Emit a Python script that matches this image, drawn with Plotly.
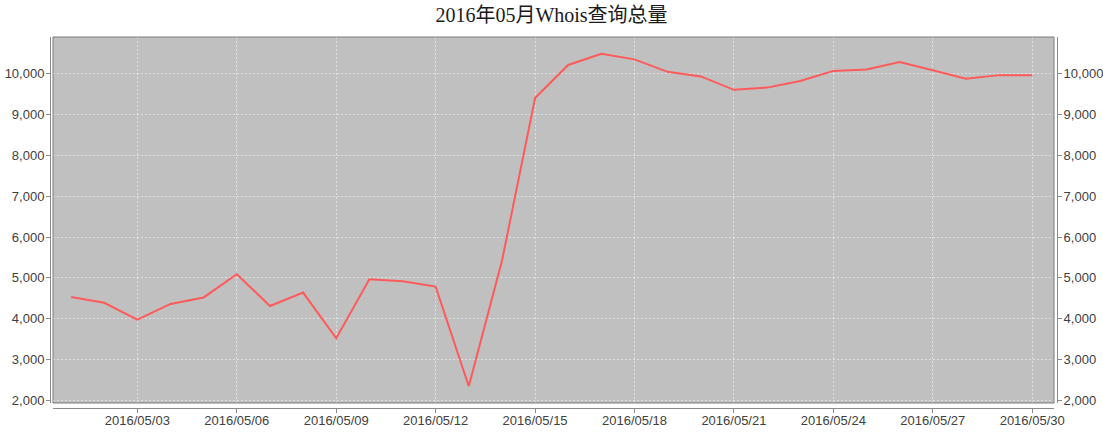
import plotly.graph_objects as go

# ---- data ----
dates = [
    "2016-05-01", "2016-05-02", "2016-05-03", "2016-05-04", "2016-05-05",
    "2016-05-06", "2016-05-07", "2016-05-08", "2016-05-09", "2016-05-10",
    "2016-05-11", "2016-05-12", "2016-05-13", "2016-05-14", "2016-05-15",
    "2016-05-16", "2016-05-17", "2016-05-18", "2016-05-19", "2016-05-20",
    "2016-05-21", "2016-05-22", "2016-05-23", "2016-05-24", "2016-05-25",
    "2016-05-26", "2016-05-27", "2016-05-28", "2016-05-29", "2016-05-30",
]
whois_total = [
    4530, 4390, 3975, 4360, 4520,
    5090, 4310, 4640, 3520, 4965,
    4915, 4785, 2345, 5410, 9405,
    10215, 10490, 10352, 10046, 9934,
    9605, 9660, 9822, 10070, 10104,
    10288, 10087, 9878, 9966, 9966,
]
title_text = "2016年05月Whois查询总量"

# ---- layout constants (pixels) ----
W, H = 1103, 432
ML, MR, MT, MB = 50, 46, 37, 24
pw = W - ML - MR
ph = H - MT - MB
x_dom = [3 / pw, (1054 - ML) / pw]
y_dom = [5 / ph, 1]

tick_font = dict(family="Liberation Sans, Noto Sans CJK SC", size=13, color="#404040")
axis_col = "#8a8a8a"
grid_col = "rgba(255,255,255,0.5)"
yrange = [1934, 10900]

fig = go.Figure()
fig.add_trace(go.Scatter(
    x=dates, y=whois_total, mode="lines",
    line=dict(color="#ff5a5a", width=2),
    showlegend=False, hoverinfo="x+y",
))
fig.add_trace(go.Scatter(
    x=dates, y=whois_total, mode="lines", yaxis="y2",
    line=dict(color="rgba(0,0,0,0)", width=0),
    showlegend=False, hoverinfo="skip",
))

fig.update_layout(
    width=W, height=H,
    margin=dict(l=ML, r=MR, t=MT, b=MB, pad=0, autoexpand=False),
    paper_bgcolor="white",
    plot_bgcolor="#c0c0c0",
    title=dict(
        text=title_text, x=0.5, xanchor="center",
        y=1 - 15 / H, yanchor="middle", yref="container",
        font=dict(family="Liberation Serif, Noto Sans CJK SC", size=20, color="#1a1a1a"),
        automargin=False,
    ),
    xaxis=dict(
        domain=x_dom, anchor="free", position=0, automargin=False,
        type="date",
        range=["2016-04-30 10:54", "2016-05-30 15:48"],
        tick0="2016-05-03", dtick=3 * 86400000,
        tickformat="%Y/%m/%d",
        showline=True, linecolor=axis_col, linewidth=1,
        ticks="outside", ticklen=4, tickcolor=axis_col,
        ticklabelstandoff=-4,
        showgrid=True, gridcolor=grid_col, gridwidth=1, griddash="2px,2px",
        zeroline=False, tickfont=tick_font,
    ),
    yaxis=dict(
        domain=y_dom, anchor="free", position=0, side="left", automargin=False,
        range=yrange, tick0=2000, dtick=1000, tickformat=",d",
        showline=True, linecolor=axis_col, linewidth=1,
        ticks="outside", ticklen=4, tickcolor=axis_col,
        ticklabelstandoff=-1,
        showgrid=True, gridcolor=grid_col, gridwidth=1, griddash="2px,2px",
        zeroline=False, tickfont=tick_font,
    ),
    yaxis2=dict(
        overlaying="y", anchor="free", position=1, side="right", automargin=False,
        range=yrange, tick0=2000, dtick=1000, tickformat=",d",
        showline=True, linecolor=axis_col, linewidth=1,
        ticks="outside", ticklen=4, tickcolor=axis_col,
        ticklabelstandoff=-1,
        showgrid=False, zeroline=False, tickfont=tick_font,
    ),
    shapes=[dict(
        type="rect", xref="x domain", yref="y domain",
        x0=0, x1=1, y0=0, y1=1,
        line=dict(color="#7a7a7a", width=1), fillcolor="rgba(0,0,0,0)",
        layer="above",
    )],
)

fig.write_html(
    "out.html",
    config={"displayModeBar": False},
    post_script="document.body.style.margin='0';document.body.style.overflow='hidden';",
)
